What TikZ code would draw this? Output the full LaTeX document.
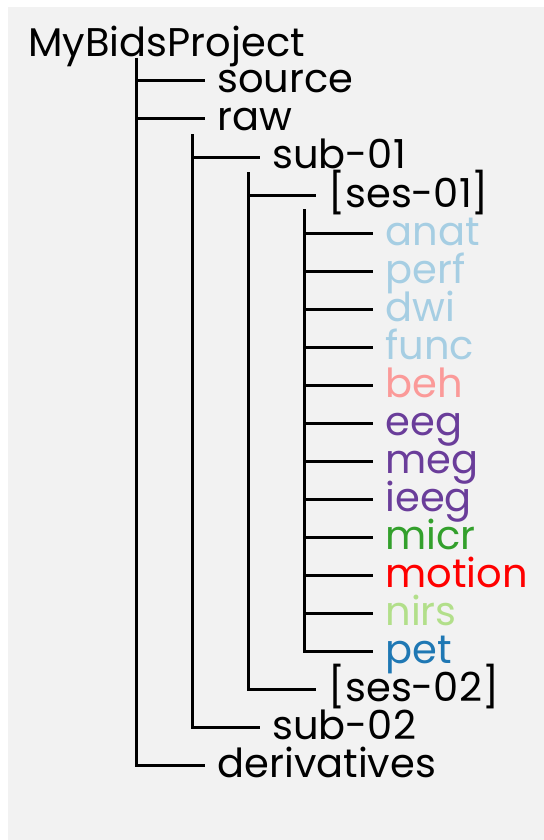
\documentclass[tikz,border=0pt]{standalone}
\usepackage{fontspec}
\setmainfont{Poppins}
\usepackage{tikz}

\definecolor{bg}{HTML}{F2F2F2}
\definecolor{lblue}{HTML}{A6CEE3}
\definecolor{dblue}{HTML}{1F78B4}
\definecolor{lgreen}{HTML}{B2DF8A}
\definecolor{dgreen}{HTML}{33A02C}
\definecolor{lred}{HTML}{FB9A99}
\definecolor{purp}{HTML}{6A3D9A}

\begin{document}
\begin{tikzpicture}[
    x=0.5pt, y=-0.5pt,
    entry/.style={anchor=west, inner xsep=6pt, inner ysep=0pt, text height=12pt, text depth=0pt, font=\fontsize{20}{24}\selectfont},
    branch/.style={draw=black, line width=1.5pt}
]
    % Background
    \useasboundingbox (0,0) rectangle (544,840);
    \fill[bg] (8,7) rectangle (544,840);

    % Root
    \node[entry, anchor=base west, inner xsep=0pt] (root) at (28,57) {MyBidsProject};
    \coordinate (root-t) at (136,58);

    % Top level
    \node[entry] (source) at (205,81) {source};
    \node[entry] (raw) at (205,119) {raw};
    \coordinate (raw-t) at (192,134);
    \node[entry] (sub01) at (260,157) {sub-01};
    \coordinate (sub01-t) at (248,172);
    \node[entry] (ses01) at (316,195) {[ses-01]};
    \coordinate (ses01-t) at (304,209);

    % Datatypes
    \node[entry, text=lblue] (anat) at (373,233) {anat};
    \node[entry, text=lblue] (perf) at (373,271) {perf};
    \node[entry, text=lblue] (dwi) at (373,309) {dwi};
    \node[entry, text=lblue] (func) at (373,347) {func};
    \node[entry, text=lred] (beh) at (373,385) {beh};
    \node[entry, text=purp] (eeg) at (373,423) {eeg};
    \node[entry, text=purp] (meg) at (373,461) {meg};
    \node[entry, text=purp] (ieeg) at (373,499) {ieeg};
    \node[entry, text=dgreen] (micr) at (373,537) {micr};
    \node[entry, text=red] (motion) at (373,575) {motion};
    \node[entry, text=lgreen] (nirs) at (373,613) {nirs};
    \node[entry, text=dblue] (pet) at (373,651) {pet};

    \node[entry] (ses02) at (316,689) {[ses-02]};
    \node[entry] (sub02) at (260,727) {sub-02};
    \node[entry] (deriv) at (205,765) {derivatives};

    % Branches
    \draw[branch] (root-t) |- (source.west);
    \draw[branch] (root-t) |- (raw.west);
    \draw[branch] (root-t) |- (deriv.west);
    \draw[branch] (raw-t) |- (sub01.west);
    \draw[branch] (raw-t) |- (sub02.west);
    \draw[branch] (sub01-t) |- (ses01.west);
    \draw[branch] (sub01-t) |- (ses02.west);
    \draw[branch] (ses01-t) |- (anat.west);
    \draw[branch] (ses01-t) |- (perf.west);
    \draw[branch] (ses01-t) |- (dwi.west);
    \draw[branch] (ses01-t) |- (func.west);
    \draw[branch] (ses01-t) |- (beh.west);
    \draw[branch] (ses01-t) |- (eeg.west);
    \draw[branch] (ses01-t) |- (meg.west);
    \draw[branch] (ses01-t) |- (ieeg.west);
    \draw[branch] (ses01-t) |- (micr.west);
    \draw[branch] (ses01-t) |- (motion.west);
    \draw[branch] (ses01-t) |- (nirs.west);
    \draw[branch] (ses01-t) |- (pet.west);
\end{tikzpicture}
\end{document}
